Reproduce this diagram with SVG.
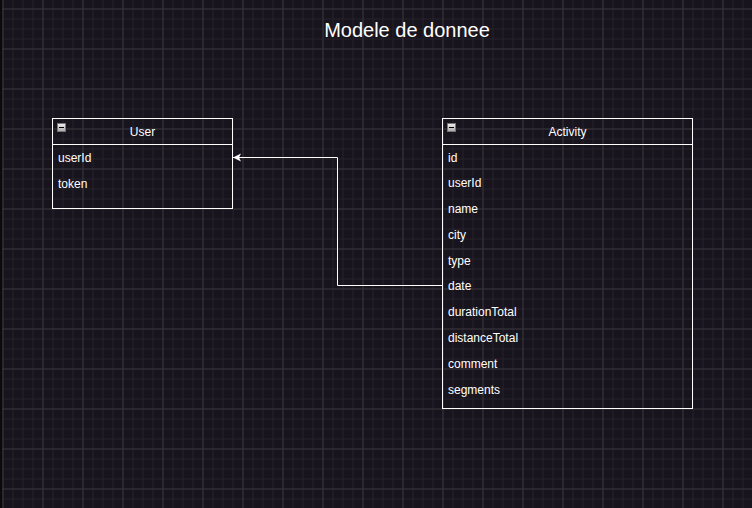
<svg xmlns="http://www.w3.org/2000/svg" width="752" height="508" viewBox="0 0 752 508">
  <defs>
    <pattern id="minor" x="2.5" y="8.5" width="10" height="10" patternUnits="userSpaceOnUse">
      <path d="M0 0.5H10M0.5 0V10" fill="none" stroke="#25222a" stroke-width="1"/>
    </pattern>
    <pattern id="major" x="2.5" y="8.5" width="40" height="40" patternUnits="userSpaceOnUse">
      <path d="M0 0.5H40M0.5 0V40" fill="none" stroke="#36333a" stroke-width="1"/>
    </pattern>
    <linearGradient id="btn" x1="0" y1="0" x2="0" y2="1">
      <stop offset="0" stop-color="#f2f2f2"/>
      <stop offset="1" stop-color="#a8a8a8"/>
    </linearGradient>
    <marker id="arrow" markerWidth="10" markerHeight="10" refX="9" refY="5" orient="auto" markerUnits="userSpaceOnUse">
      <path d="M9 5L1 1L3 5L1 9Z" fill="#ffffff"/>
    </marker>
  </defs>
  <style>
    .box{fill:none;stroke:#ffffff;stroke-width:1}
    .hdr{font-family:"Liberation Sans",Arial,sans-serif;font-size:12px;fill:#ffffff;text-anchor:middle}
    .fld{font-family:"Liberation Sans",Arial,sans-serif;font-size:12px;fill:#ffffff}
    .title{font-family:"Liberation Sans",Arial,sans-serif;font-size:20px;fill:#ffffff;text-anchor:middle}
    .edge{fill:none;stroke:#ffffff;stroke-width:1}
  </style>
  <rect width="752" height="508" fill="#18141d"/>
  <rect width="752" height="508" fill="url(#minor)"/>
  <rect width="752" height="508" fill="url(#major)"/>
  <rect x="0" y="0" width="2" height="508" fill="#0a0a0a"/>

  <g id="title">
    <text class="title" x="407" y="37">Modele de donnee</text>
  </g>

  <g id="connectors">
    <path class="edge" d="M443 285.5H337.5V157.5H233" marker-end="url(#arrow)"/>
  </g>

  <g id="user">
    <rect class="box" x="52.5" y="118.5" width="180" height="90"/>
    <line class="box" x1="52.5" y1="144.5" x2="232.5" y2="144.5"/>
    <rect x="57.5" y="123.5" width="8" height="8" fill="url(#btn)" stroke="#777" stroke-width="1"/>
    <line x1="59" y1="127.5" x2="64" y2="127.5" stroke="#000" stroke-width="1"/>
    <text class="hdr" x="142.5" y="135.5">User</text>
    <text class="fld" x="58" y="161.5">userId</text>
    <text class="fld" x="58" y="187.5">token</text>
  </g>

  <g id="activity">
    <rect class="box" x="442.5" y="118.5" width="250" height="290"/>
    <line class="box" x1="442.5" y1="144.5" x2="692.5" y2="144.5"/>
    <rect x="447.5" y="123.5" width="8" height="8" fill="url(#btn)" stroke="#777" stroke-width="1"/>
    <line x1="449" y1="127.5" x2="454" y2="127.5" stroke="#000" stroke-width="1"/>
    <text class="hdr" x="567.5" y="135.5">Activity</text>
    <text class="fld" x="448" y="161.5">id</text>
    <text class="fld" x="448" y="186.5">userId</text>
    <text class="fld" x="448" y="212.5">name</text>
    <text class="fld" x="448" y="238.5">city</text>
    <text class="fld" x="448" y="264.5">type</text>
    <text class="fld" x="448" y="289.5">date</text>
    <text class="fld" x="448" y="315.5">durationTotal</text>
    <text class="fld" x="448" y="341.5">distanceTotal</text>
    <text class="fld" x="448" y="367.5">comment</text>
    <text class="fld" x="448" y="393.5">segments</text>
  </g>
</svg>
